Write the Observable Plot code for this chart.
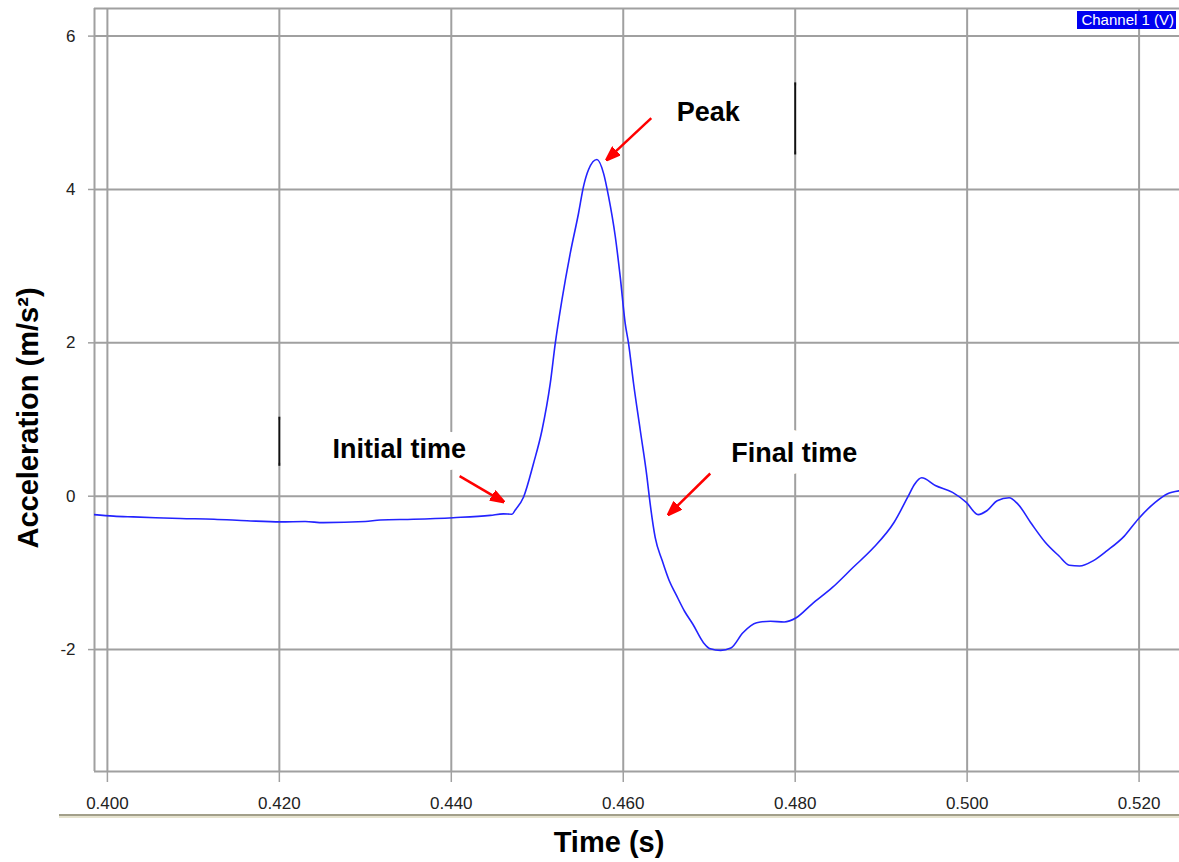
<!DOCTYPE html>
<html>
<head>
<meta charset="utf-8">
<script src="https://cdn.jsdelivr.net/npm/d3@7"></script>
<script src="https://cdn.jsdelivr.net/npm/@observablehq/plot@0.6"></script>
<style>
  html, body { margin: 0; padding: 0; background: #ffffff; }
  #wrap { position: relative; width: 1179px; height: 862px; overflow: hidden; }
  #sep { position: absolute; left: 59px; top: 814px; width: 1120px; height: 0;
         border-top: 2px solid #a29f8a; border-bottom: 2px solid #e6e3cf; }
  #legend { position: absolute; left: 1077px; top: 11px; width: 99px; height: 18px;
            background: #0000f0; color: #ffffff; font: 15px "Liberation Sans", Arial, sans-serif;
            line-height: 18px; text-align: right; padding-right: 2px; box-sizing: border-box; }
</style>
</head>
<body>
<div id="wrap">
  <div id="chart"></div>
  <div id="sep"></div>
  <div id="legend">Channel 1 (V)</div>
</div>
<script>
// ---- data ----
const timeS = [
  0.39841, 0.40073, 0.40300, 0.40560, 0.40849, 0.41240, 0.41624, 0.42012, 0.42300, 0.42512,
  0.43000, 0.43174, 0.43558, 0.44023, 0.44453, 0.44605, 0.44706, 0.44744, 0.44841, 0.44957,
  0.45055, 0.45151, 0.45209, 0.45287, 0.45384, 0.45480, 0.45538, 0.45597, 0.45694, 0.45771,
  0.45829, 0.45907, 0.45965, 0.46023, 0.46062, 0.46120, 0.46198, 0.46276, 0.46302, 0.46372,
  0.46453, 0.46534, 0.46613, 0.46713, 0.46810, 0.46933, 0.47012, 0.47133, 0.47252, 0.47392,
  0.47552, 0.47712, 0.47872, 0.48012, 0.48192, 0.48433, 0.48672, 0.48912, 0.49151, 0.49310,
  0.49391, 0.49471, 0.49630, 0.49830, 0.49990, 0.50128, 0.50229, 0.50349, 0.50488, 0.50588,
  0.50749, 0.50908, 0.51069, 0.51188, 0.51308, 0.51469, 0.51628, 0.51828, 0.51988, 0.52187,
  0.52326, 0.52463
];
const accel = [
  -0.24, -0.26, -0.27, -0.28, -0.29, -0.30, -0.32, -0.335, -0.33, -0.345,
  -0.33, -0.31, -0.30, -0.28, -0.25, -0.23, -0.235, -0.18, -0.01, 0.43,
  0.86, 1.47, 1.99, 2.56, 3.17, 3.69, 4.04, 4.26, 4.39, 4.21,
  3.91, 3.39, 2.86, 2.25, 1.99, 1.47, 0.86, 0.25, 0.0, -0.54,
  -0.84, -1.10, -1.28, -1.50, -1.67, -1.91, -1.99, -2.01, -1.98, -1.78,
  -1.65, -1.63, -1.64, -1.585, -1.41, -1.19, -0.93, -0.67, -0.34, -0.01,
  0.16, 0.24, 0.14, 0.05, -0.08, -0.24, -0.19, -0.06, -0.02, -0.10,
  -0.36, -0.60, -0.78, -0.90, -0.91, -0.84, -0.71, -0.52, -0.30, -0.08,
  0.03, 0.07
];
const xDomain = [0.3985, 0.5247];
const yDomain = [-3.59, 6.36];
const xTicks = [0.40, 0.42, 0.44, 0.46, 0.48, 0.50, 0.52];
const yTicks = [-2, 0, 2, 4, 6];

// annotations
const annLabels = ["Peak", "Initial time", "Final time"];
const annT = [0.46988, 0.43395, 0.47988];
const annV = [5.0, 0.61, 0.56];
const arrowT1 = [0.46326, 0.44097, 0.47012];
const arrowV1 = [4.93, 0.261, 0.296];
const arrowT2 = [0.45810, 0.44608, 0.46527];
const arrowV2 = [4.39, -0.074, -0.239];
// cursor marks
const cursorT = [0.42, 0.48];
const cursorLo = [0.39, 4.45];
const cursorHi = [1.03, 5.39];

const xTitle = "Time (s)";
const yTitle = "Acceleration (m/s²)";

// ---- tables ----
const rows = timeS.map((t, i) => ({t, a: accel[i]}));
const anns = annLabels.map((s, i) => ({s, t: annT[i], v: annV[i]}));
const arrows = arrowT1.map((t, i) => ({x1: t, y1: arrowV1[i], x2: arrowT2[i], y2: arrowV2[i]}));
const cursors = cursorT.map((t, i) => ({t, lo: cursorLo[i], hi: cursorHi[i]}));

function redHead(color) {
  const ns = "http://www.w3.org/2000/svg";
  const m = document.createElementNS(ns, "marker");
  m.setAttribute("viewBox", "0 -6 14 12");
  m.setAttribute("refX", "13");
  m.setAttribute("refY", "0");
  m.setAttribute("markerWidth", "14");
  m.setAttribute("markerHeight", "12");
  m.setAttribute("markerUnits", "userSpaceOnUse");
  m.setAttribute("orient", "auto");
  const p = document.createElementNS(ns, "path");
  p.setAttribute("d", "M0,-5L14,0L0,5Z");
  p.setAttribute("fill", color);
  m.appendChild(p);
  return m;
}

const gridColor = "#a0a0a0";
const tickFont = '"Liberation Sans Narrow", "Liberation Sans", Arial, sans-serif';
const boldFont = '"Liberation Sans", Arial, sans-serif';

let arrowMark;
try {
  arrowMark = Plot.link(arrows, {x1: "x1", y1: "y1", x2: "x2", y2: "y2", stroke: "#ff0000", strokeWidth: 2.5, markerEnd: redHead});
} catch (e) {
  arrowMark = Plot.arrow(arrows, {x1: "x1", y1: "y1", x2: "x2", y2: "y2", stroke: "#ff0000", strokeWidth: 3, headLength: 12, headAngle: 45});
}

const plot = Plot.plot({
  width: 1179,
  height: 862,
  marginLeft: 94,
  marginRight: 0,
  marginTop: 8,
  marginBottom: 91,
  style: {background: "transparent", fontFamily: tickFont, fontSize: "17px", color: "#222", overflow: "visible"},
  x: {domain: xDomain},
  y: {domain: yDomain},
  marks: [
    Plot.gridX(xTicks, {stroke: gridColor, strokeOpacity: 1, strokeWidth: 2}),
    Plot.gridY(yTicks, {stroke: gridColor, strokeOpacity: 1, strokeWidth: 2}),
    Plot.ruleX([xDomain[0]], {stroke: gridColor, strokeWidth: 2}),
    Plot.ruleY([yDomain[0], yDomain[1]], {stroke: gridColor, strokeWidth: 2}),
    Plot.axisX(xTicks, {tickFormat: d3.format(".3f"), tickSize: 11, tickPadding: 14, stroke: gridColor, strokeWidth: 1.5, fill: "#222", fontSize: 17, label: null}),
    Plot.axisY(yTicks, {tickFormat: d => String(d), tickSize: 6, tickPadding: 13, stroke: gridColor, strokeWidth: 1.5, fill: "#222", fontSize: 17, label: null}),
    Plot.ruleX(cursors, {x: "t", y1: "lo", y2: "hi", stroke: "#ffffff", strokeWidth: 5, insetTop: -3, insetBottom: -3}),
    Plot.ruleX(cursors, {x: "t", y1: "lo", y2: "hi", stroke: "#111111", strokeWidth: 2}),
    Plot.line(rows, {x: "t", y: "a", stroke: "#2323ff", strokeWidth: 1.6, curve: "monotone-x", clip: true}),
    Plot.text(anns, {x: "t", y: "v", text: "s", fontSize: 27, fontWeight: "bold", fontFamily: boldFont, fill: "#000", stroke: "#ffffff", strokeWidth: 24, strokeLinejoin: "round"}),
    arrowMark,
    Plot.text([xTitle], {frameAnchor: "bottom", text: d => d, textAnchor: "middle", dx: -28, dy: 80, fontSize: 29, fontWeight: "bold", fontFamily: boldFont, fill: "#000"}),
    Plot.text([yTitle], {frameAnchor: "left", text: d => d, textAnchor: "middle", rotate: -90, dx: -66, dy: 28, fontSize: 29, fontWeight: "bold", fontFamily: boldFont, fill: "#000"})
  ]
});
document.getElementById("chart").appendChild(plot);
</script>
</body>
</html>
